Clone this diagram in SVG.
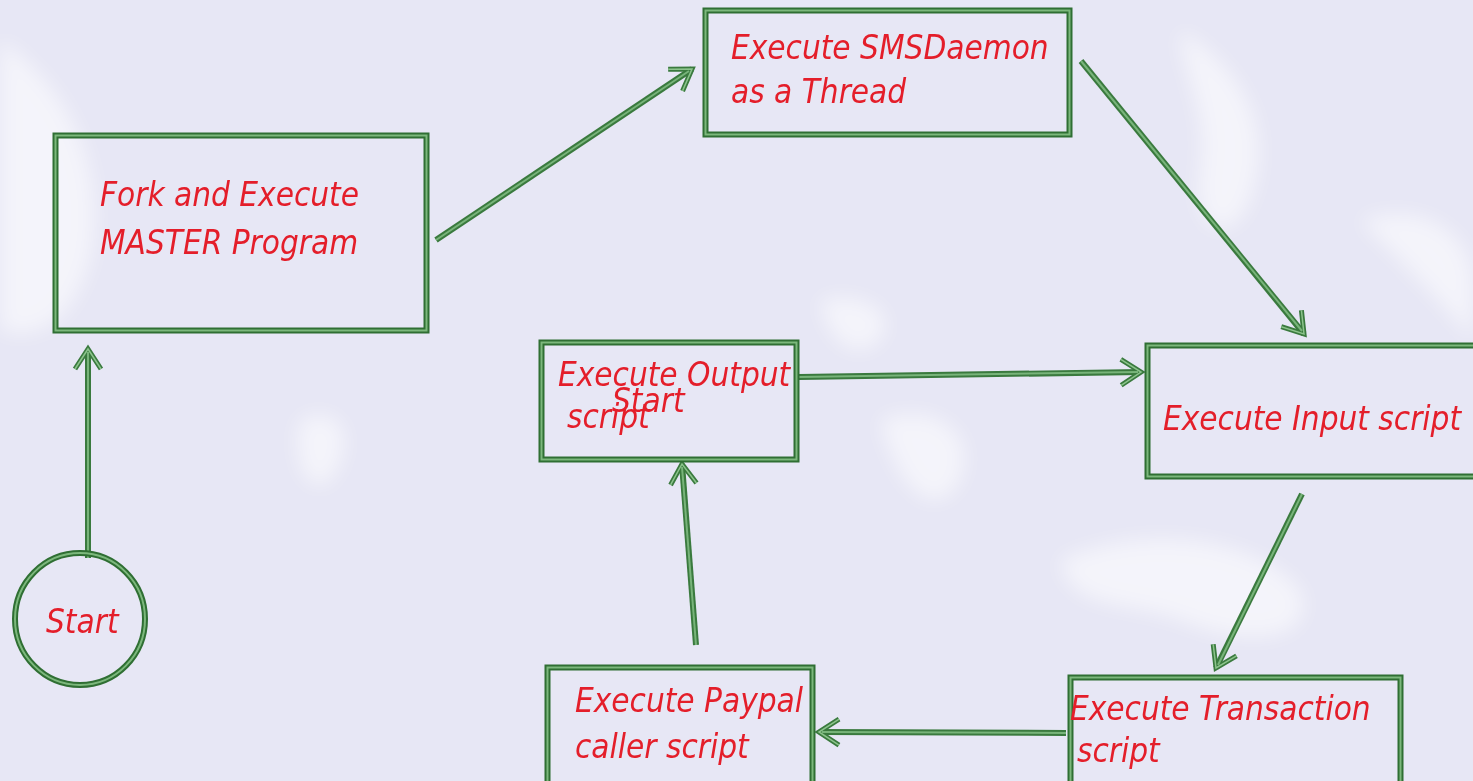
<svg xmlns="http://www.w3.org/2000/svg" width="1473" height="781" viewBox="0 0 1473 781">
<style>
.bg{fill:#e7e7f5}
.box-o{fill:none;stroke:#2f6f33;stroke-width:6}
.box-i{fill:none;stroke:#7cb87c;stroke-width:2}
.ln-o{fill:none;stroke:#3a7a3e;stroke-width:6;stroke-linecap:butt}
.ln-i{fill:none;stroke:#78b47a;stroke-width:2}
.lbl{font-family:"DejaVu Sans Condensed","DejaVu Sans",sans-serif;font-stretch:condensed;font-style:oblique;font-size:33px;fill:#e41e2a}
.swirl{fill:#ffffff;opacity:0.55}
</style>
<defs>
<filter id="blur" x="-20%" y="-20%" width="140%" height="140%"><feGaussianBlur stdDeviation="10"/></filter>
<marker id="arr" markerUnits="userSpaceOnUse" markerWidth="40" markerHeight="40" viewBox="-30 -20 40 40" refX="0" refY="0" orient="auto">
<path d="M-20,-13 L0,0 L-20,13" fill="none" stroke="#3a7a3e" stroke-width="5" stroke-linejoin="miter"/>
<path d="M-20,-13 L0,0 L-20,13" fill="none" stroke="#8cc48c" stroke-width="1.5"/>
</marker>
</defs>
<rect class="bg" x="0" y="0" width="1473" height="781"/>
<g id="background-swirls" filter="url(#blur)">
<path class="swirl" d="M0,40 C60,80 110,160 90,260 C70,330 30,340 0,330 Z"/>
<path class="swirl" d="M1180,30 C1230,60 1280,120 1250,200 C1230,250 1190,230 1200,170 C1210,110 1180,70 1180,30 Z"/>
<path class="swirl" d="M820,300 C860,290 900,310 880,340 C860,360 830,350 820,300 Z"/>
<path class="swirl" d="M1060,560 C1150,520 1260,540 1300,590 C1320,640 1250,650 1180,620 C1120,600 1070,610 1060,560 Z"/>
<path class="swirl" d="M1360,220 C1420,200 1470,230 1473,280 L1473,340 C1440,300 1400,260 1360,220 Z"/>
<path class="swirl" d="M300,420 C340,400 360,440 330,480 C310,500 290,460 300,420 Z"/>
<path class="swirl" d="M880,420 C930,400 980,430 960,480 C940,520 900,500 880,420 Z"/>
</g>
<g id="connectors">
<g id="c-start-fork"><path class="ln-o" d="M88,558 L88,349" marker-end="url(#arr)"/><path class="ln-i" d="M88,558 L88,352"/></g>
<g id="c-fork-sms"><path class="ln-o" d="M436,240 L692,69" marker-end="url(#arr)"/><path class="ln-i" d="M436,240 L689,71"/></g>
<g id="c-sms-input"><path class="ln-o" d="M1081,61 L1304,334" marker-end="url(#arr)"/><path class="ln-i" d="M1081,61 L1302,331"/></g>
<g id="c-output-input"><path class="ln-o" d="M799,377 L1141,372" marker-end="url(#arr)"/><path class="ln-i" d="M799,377 L1138,372"/></g>
<g id="c-input-trans"><path class="ln-o" d="M1302,494 L1216,668" marker-end="url(#arr)"/><path class="ln-i" d="M1302,494 L1218,665"/></g>
<g id="c-trans-paypal"><path class="ln-o" d="M1066,733 L819,732" marker-end="url(#arr)"/><path class="ln-i" d="M1066,733 L822,732"/></g>
<g id="c-paypal-output"><path class="ln-o" d="M696,645 L682,464" marker-end="url(#arr)"/><path class="ln-i" d="M696,645 L682,467"/></g>
</g>
<g id="node-start">
<ellipse class="box-o" cx="80" cy="619" rx="65" ry="66"/>
<ellipse class="box-i" cx="80" cy="619" rx="65" ry="66"/>
<text class="lbl" x="46" y="633">Start</text>
</g>
<g id="node-fork">
<rect class="box-o" x="55.5" y="135.5" width="371" height="195"/>
<rect class="box-i" x="55.5" y="135.5" width="371" height="195"/>
<text class="lbl" x="100" y="206">Fork and Execute</text>
<text class="lbl" x="100" y="254">MASTER Program</text>
</g>
<g id="node-sms">
<rect class="box-o" x="705.5" y="10.5" width="364" height="124"/>
<rect class="box-i" x="705.5" y="10.5" width="364" height="124"/>
<text class="lbl" x="731" y="59">Execute SMSDaemon</text>
<text class="lbl" x="731" y="103">as a Thread</text>
</g>
<g id="node-output">
<rect class="box-o" x="541.5" y="342.5" width="255" height="117"/>
<rect class="box-i" x="541.5" y="342.5" width="255" height="117"/>
<text class="lbl" x="558" y="386">Execute Output</text>
<text class="lbl" x="612" y="412">Start</text>
<text class="lbl" x="567" y="428">script</text>
</g>
<g id="node-input">
<rect class="box-o" x="1147.5" y="345.5" width="340" height="131"/>
<rect class="box-i" x="1147.5" y="345.5" width="340" height="131"/>
<text class="lbl" x="1163" y="430">Execute Input script</text>
</g>
<g id="node-paypal">
<rect class="box-o" x="547.5" y="667.5" width="265" height="130"/>
<rect class="box-i" x="547.5" y="667.5" width="265" height="130"/>
<text class="lbl" x="575" y="712">Execute Paypal</text>
<text class="lbl" x="575" y="758">caller script</text>
</g>
<g id="node-transaction">
<rect class="box-o" x="1070.5" y="677.5" width="330" height="130"/>
<rect class="box-i" x="1070.5" y="677.5" width="330" height="130"/>
<text class="lbl" x="1070" y="720">Execute Transaction</text>
<text class="lbl" x="1077" y="762">script</text>
</g>
</svg>
